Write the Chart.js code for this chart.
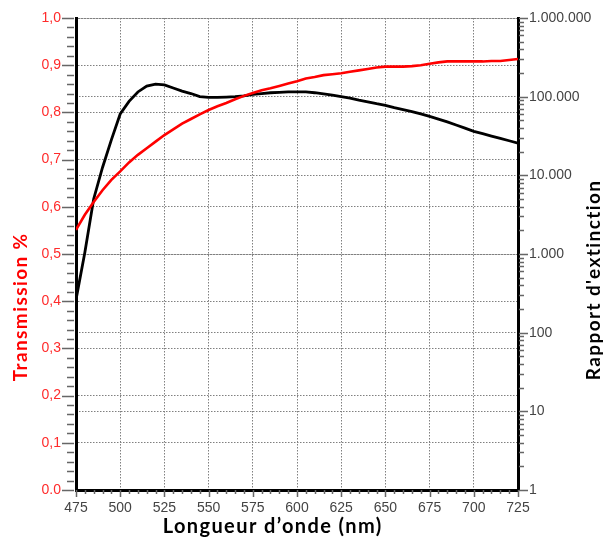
<!DOCTYPE html>
<html>
<head>
<meta charset="utf-8">
<script src="https://cdn.jsdelivr.net/npm/chart.js@4.4.0/dist/chart.umd.min.js"></script>
<style>
html,body{margin:0;padding:0;background:#fff}
#wrap{width:607px;height:540px;position:relative}
</style>
</head>
<body>
<div id="wrap"><canvas id="graf"></canvas></div>
<script>
// données
const wavelengths = [475,480,485,490,495,500,505,510,515,520,525,530,535,540,545,550,555,560,565,570,575,580,585,590,595,600,605,610,615,620,625,630,635,640,645,650,655,660,665,670,675,680,685,690,695,700,705,710,715,720,725];
const transmission = [0.551,0.583,0.610,0.635,0.657,0.675,0.694,0.710,0.724,0.738,0.752,0.764,0.776,0.786,0.796,0.805,0.813,0.820,0.828,0.835,0.841,0.847,0.851,0.856,0.861,0.866,0.872,0.875,0.879,0.881,0.883,0.886,0.889,0.892,0.895,0.897,0.897,0.897,0.898,0.900,0.903,0.906,0.908,0.908,0.908,0.908,0.908,0.909,0.909,0.911,0.913];
const extinction = [263,1047,5012,12590,28180,60260,87100,114800,136500,144500,141300,128800,117500,109600,100000,97700,97700,98900,100000,102300,107200,109600,112200,113500,114800,114800,114800,112200,108400,104700,100000,95500,90200,86100,81300,77600,72400,68400,64600,60300,56200,51900,47900,43700,39800,36300,33900,31600,29500,27500,25700];
const xTicks = [475,500,525,550,575,600,625,650,675,700,725];
const transTicks = [0,0.1,0.2,0.3,0.4,0.5,0.6,0.7,0.8,0.9,1.0];
const ratioTicks = [1,10,100,1000,10000,100000,1000000];

const ROUGE = '#ff0000';
const GRIS = '#808080';

function ptsDe(vals){
  return wavelengths.map((w,i)=>({x:w, y:vals[i]}));
}
function fmtMille(v){
  return String(v).replace(/\B(?=(\d{3})+(?!\d))/g, '.');
}
function setTicks(list){
  return s => { s.ticks = list.map(v=>({value:v})); };
}
function fixWidth(w){
  return s => { s.width = w; s.paddingTop = 0; s.paddingBottom = 0; };
}

// petites graduations + titres des axes
const extras = {
  id: 'extras',
  afterDraw(chart){
    const {ctx, chartArea: a, scales} = chart;
    ctx.save();
    ctx.strokeStyle = '#666';
    ctx.lineWidth = 1.5;
    ctx.beginPath();
    wavelengths.forEach(w=>{
      const x = Math.round(scales.x.getPixelForValue(w)) + 0.5;
      const len = xTicks.includes(w) ? 7 : 4;
      ctx.moveTo(x, a.bottom); ctx.lineTo(x, a.bottom + len);
    });
    for(let i=0;i<=50;i++){
      const y = Math.round(scales.y.getPixelForValue(i/50)) + 0.5;
      const len = i%5===0 ? 14 : 9;
      ctx.moveTo(a.left - 2, y); ctx.lineTo(a.left - len, y);
    }
    ratioTicks.slice(0,-1).forEach(d=>{
      for(let m=1;m<=9;m++){
        const y = Math.round(scales.y2.getPixelForValue(m*d)) + 0.5;
        const len = m===1 ? 10 : 6;
        ctx.moveTo(a.right + 1, y); ctx.lineTo(a.right + len, y);
      }
    });
    const yTop = Math.round(scales.y2.getPixelForValue(1000000)) + 0.5;
    ctx.moveTo(a.right + 1, yTop); ctx.lineTo(a.right + 10, yTop);
    ctx.stroke();

    ctx.textAlign = 'center';
    ctx.textBaseline = 'middle';
    ctx.fillStyle = '#000';
    ctx.letterSpacing = '1.4px';
    ctx.font = 'bold 20px Lato';
    ctx.fillText('Longueur d\u2019onde (nm)', a.left + a.width*0.445, a.bottom + 37);

    ctx.save();
    ctx.translate(a.left - 55, a.top + a.height*0.612);
    ctx.rotate(-Math.PI/2);
    ctx.fillStyle = ROUGE;
    ctx.font = 'bold 19px Lato';
    ctx.fillText('Transmission %', 0, 0);
    ctx.restore();

    ctx.save();
    ctx.translate(a.right + 76, a.top + a.height*0.555);
    ctx.rotate(-Math.PI/2);
    ctx.fillStyle = '#000';
    ctx.font = 'bold 19px Lato';
    ctx.fillText('Rapport d\'extinction', 0, 0);
    ctx.restore();
    ctx.restore();
  }
};

new Chart(document.getElementById('graf').getContext('2d'), {
  type: 'line',
  data: {
    datasets: [
      { label: 'Transmission', data: ptsDe(transmission), yAxisID: 'y', borderColor: ROUGE, borderWidth: 2.6, pointRadius: 0, tension: 0 },
      { label: 'Rapport d\'extinction', data: ptsDe(extinction), yAxisID: 'y2', borderColor: '#000', borderWidth: 2.8, pointRadius: 0, tension: 0 }
    ]
  },
  options: {
    responsive: true,
    maintainAspectRatio: false,
    animation: false,
    layout: { padding: { top: 18 } },
    plugins: { legend: { display: false }, tooltip: { enabled: false } },
    scales: {
      x: {
        type: 'linear', min: 475, max: 725,
        afterBuildTicks: setTicks(xTicks),
        afterFit: s => { s.height = 50; },
        grid: { color: GRIS, lineWidth: 1, drawTicks: false },
        border: { color: '#000', width: 3, dash: [1.5,1.5] },
        ticks: { padding: 10, color: '#444', font: { family: 'Liberation Sans', size: 14 }, maxRotation: 0 }
      },
      y: {
        type: 'linear', position: 'left', min: 0, max: 1,
        afterBuildTicks: setTicks(transTicks),
        afterFit: fixWidth(76),
        grid: { color: GRIS, lineWidth: 1, drawTicks: false },
        border: { color: '#000', width: 3, dash: [1.5,1.5] },
        ticks: { padding: 15, color: '#ff2b2b', font: { family: 'Liberation Sans', size: 14 },
          callback: v => v===0 ? '0.0' : v.toFixed(1).replace('.', ',') }
      },
      y2: {
        type: 'logarithmic', position: 'right', min: 1, max: 1000000,
        afterBuildTicks: setTicks(ratioTicks),
        afterFit: fixWidth(89),
        grid: { color: GRIS, lineWidth: 1, drawTicks: false },
        border: { color: '#000', width: 3, dash: [1.5,1.5] },
        ticks: { padding: 11, color: '#444', font: { family: 'Liberation Sans', size: 14 },
          callback: v => fmtMille(v) }
      }
    }
  },
  plugins: [extras]
});
</script>
</body>
</html>
